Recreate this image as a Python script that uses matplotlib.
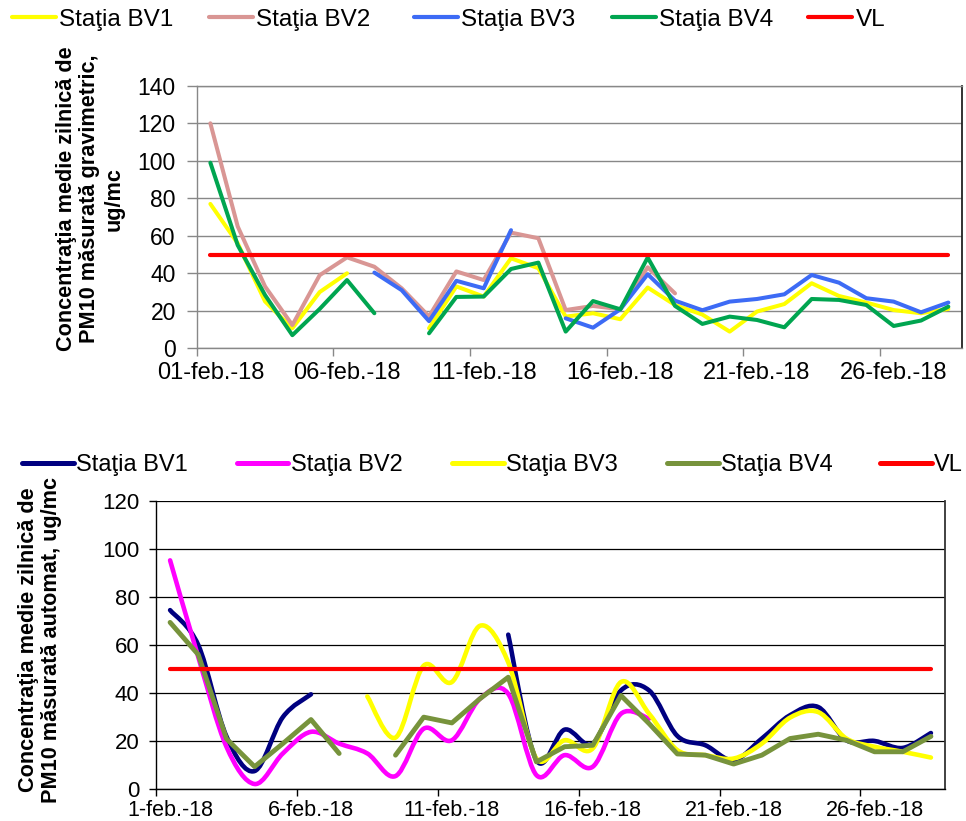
import numpy as np
import matplotlib
matplotlib.use("Agg")
import matplotlib.pyplot as plt
from matplotlib.path import Path
from matplotlib.patches import PathPatch
from matplotlib.lines import Line2D

nan = np.nan

# ---------------- data ----------------
days = list(range(1, 29))
label_days = [1, 6, 11, 16, 21, 26]
top_xlabels = ["01-feb.-18", "06-feb.-18", "11-feb.-18", "16-feb.-18", "21-feb.-18", "26-feb.-18"]
bot_xlabels = ["1-feb.-18", "6-feb.-18", "11-feb.-18", "16-feb.-18", "21-feb.-18", "26-feb.-18"]
top_yticks = [0, 20, 40, 60, 80, 100, 120, 140]
bot_yticks = [0, 20, 40, 60, 80, 100, 120]

series_names = ["Staţia BV1", "Staţia BV2", "Staţia BV3", "Staţia BV4", "VL"]

# gravimetric (top chart)
grav_bv1 = [77, 56, 25, 10.7, 30, 40, nan, nan, 10.7, 33, 27.6, 48, 42.7, 16.9,
            18.7, 15.5, 32.4, 23.1, 18, 8.9, 19.6, 23.6, 34.7, 27.9, 24.4, 20.4, 18.7, 21]
grav_bv2 = [120, 65, 33, 12.4, 39, 48.5, 43.5, 32, 17, 41, 36.4, 61.7, 58.7, 20.4,
            22.6, 20.8, 43.2, 29.3, nan, nan, nan, nan, nan, nan, nan, nan, nan, nan]
grav_bv3 = [nan, nan, nan, nan, nan, nan, 40.4, 31, 14.5, 36, 32, 63, nan, 16,
            11, 20.8, 39.5, 25.4, 20.3, 24.9, 26.3, 28.8, 39.1, 35, 26.7, 24.9, 19.2, 24.4]
grav_bv4 = [99, 55, 28.4, 7, 21, 36.4, 18.7, nan, 8, 27.4, 27.6, 42.3, 45.7, 8.9,
            25.2, 20.8, 48.4, 22.6, 13, 16.9, 15.1, 11.2, 26.3, 25.8, 23.1, 11.9, 14.8, 22.2]
grav_vl = [50] * 28

# automatic (bottom chart)
auto_bv1 = [74.5, 60, 22, 7.6, 30, 39.5, nan, nan, nan, nan, nan, nan, 64.3, 12.1,
            24.8, 19, 41.1, 41.1, 22.2, 18.3, 12.1, 21.1, 30.8, 34.2, 20.4, 20.1, 17.2, 23.4]
auto_bv2 = [95.2, 55, 17.7, 2.2, 14.9, 23.9, 19, 14.9, 5.5, 25.2, 20.4, 37.7, 39.7, 5.9,
            14.2, 9.4, 31.4, 29.4, nan, nan, nan, nan, nan, nan, nan, nan, nan, nan]
auto_bv3 = [nan, nan, nan, nan, nan, nan, nan, 38.6, 21.5, 51.4, 44.6, 68, 52.8, 12.8,
            20.4, 17, 44.6, 31.4, 16.3, 14.2, 12.8, 19, 29.8, 32.1, 21.1, 17.7, 15.6, 13.2]
auto_bv4 = [69.4, 56, 21, 9.4, 19, 29, 14.9, nan, 14.2, 30, 27.6, 37.7, 46.6, 11.4,
            17.7, 18.3, 39, 27.3, 14.7, 14.2, 10.5, 14.2, 21.1, 22.9, 20.4, 15.6, 15.6, 22]
auto_vl = [50] * 28

top_colors = ["#FFFF00", "#D99694", "#3D6BF5", "#00A550", "#FF0000"]
bot_colors = ["#000080", "#FF00FF", "#FFFF00", "#77933C", "#FF0000"]

FONT = "Liberation Sans"


def smooth_line(ax, x, y, color, lw, zorder=3):
    """Excel-like smoothed line (cubic Bezier through the points)."""
    x = np.asarray(x, float)
    y = np.asarray(y, float)
    ok = ~np.isnan(y)
    i = 0
    n = len(y)
    while i < n:
        if not ok[i]:
            i += 1
            continue
        j = i
        while j < n and ok[j]:
            j += 1
        px, py = x[i:j], y[i:j]
        m = len(px)
        if m >= 2:
            verts = [(px[0], py[0])]
            codes = [Path.MOVETO]
            for k in range(m - 1):
                a = max(k - 1, 0)
                b = min(k + 2, m - 1)
                c1 = (px[k] + (px[k + 1] - px[a]) / 6.0, py[k] + (py[k + 1] - py[a]) / 6.0)
                c2 = (px[k + 1] - (px[b] - px[k]) / 6.0, py[k + 1] - (py[b] - py[k]) / 6.0)
                verts += [c1, c2, (px[k + 1], py[k + 1])]
                codes += [Path.CURVE4] * 3
            patch = PathPatch(Path(verts, codes), facecolor="none", edgecolor=color,
                              lw=lw, capstyle="round", joinstyle="round", zorder=zorder)
            ax.add_patch(patch)
        i = j


fig = plt.figure(figsize=(9.66, 8.21), dpi=100)
W, H = 966.0, 821.0

# ---------------- top chart ----------------
ax1 = fig.add_axes([196.7 / W, 1 - 348.3 / H, (962 - 196.7) / W, (348.3 - 85.8) / H])
for vals, col in zip([grav_bv1, grav_bv2, grav_bv3, grav_bv4], top_colors[:4]):
    ax1.plot(days, vals, color=col, lw=2.9, solid_capstyle="round", solid_joinstyle="round", zorder=3)
ax1.plot(days, grav_vl, color=top_colors[4], lw=3.0, solid_capstyle="round", zorder=4)
ax1.set_xlim(0.5, 28.5)
ax1.set_ylim(0, 140)
ax1.set_yticks(top_yticks)
ax1.set_yticklabels([str(v) for v in top_yticks], family=FONT, fontsize=16.5)
ax1.set_xticks(label_days)
ax1.set_xticklabels(top_xlabels, family=FONT, fontsize=17)
ax1.set_xticks(np.arange(0.5, 28, 5), minor=True)
ax1.tick_params(axis="x", which="major", length=0, pad=10)
ax1.tick_params(axis="x", which="minor", length=6, color="#888888", width=1)
ax1.tick_params(axis="y", length=7, color="#888888", width=1, pad=8)
ax1.grid(axis="y", color="#888888", lw=1.0, zorder=0)
ax1.set_axisbelow(True)
for s in ["left", "bottom", "top"]:
    ax1.spines[s].set_color("#888888")
    ax1.spines[s].set_linewidth(1.0)
ax1.spines["right"].set_color("#222222")
ax1.spines["right"].set_linewidth(1.3)

fig.text(90 / W, 1 - 199 / H,
         "Concentraţia medie zilnică de\nPM10 măsurată gravimetric,\nug/mc",
         rotation=90, ha="center", va="center", multialignment="center",
         family=FONT, fontweight="bold", fontsize=15.6, linespacing=1.18)

top_handle_x = [12, 209, 414, 612, 808]
for name, col, xh in zip(series_names, top_colors, top_handle_x):
    h = Line2D([], [], color=col, lw=3.0, solid_capstyle="round")
    fig.legend([h], [name], loc="center left", bbox_to_anchor=(xh / W, 1 - 20 / H),
               frameon=False, borderpad=0, borderaxespad=0, handlelength=1.8,
               handletextpad=0.15, prop={"family": FONT, "size": 17.5})

# ---------------- bottom chart ----------------
ax2 = fig.add_axes([156 / W, 1 - 789.3 / H, (945 - 156) / W, (789.3 - 500.7) / H])
for vals, col in zip([auto_bv1, auto_bv2, auto_bv3], bot_colors[:3]):
    smooth_line(ax2, days, vals, col, 3.3)
ax2.plot(days, auto_bv4, color=bot_colors[3], lw=3.5, solid_capstyle="round",
         solid_joinstyle="round", zorder=4)
ax2.plot(days, auto_vl, color=bot_colors[4], lw=3.0, solid_capstyle="round", zorder=5)
ax2.set_xlim(0.5, 28.5)
ax2.set_ylim(0, 120)
ax2.set_yticks(bot_yticks)
ax2.set_yticklabels([str(v) for v in bot_yticks], family=FONT, fontsize=16)
ax2.set_xticks(label_days)
ax2.set_xticklabels(bot_xlabels, family=FONT, fontsize=15.5)
ax2.set_xticks(np.arange(0.5, 28, 5), minor=True)
ax2.tick_params(axis="x", which="major", length=0, pad=8)
ax2.tick_params(axis="x", which="minor", length=5, color="black", width=1)
ax2.tick_params(axis="y", length=5, color="black", width=1, pad=7)
ax2.grid(axis="y", color="black", lw=0.9, zorder=0)
ax2.set_axisbelow(True)
for s in ["left", "bottom", "right"]:
    ax2.spines[s].set_color("black")
    ax2.spines[s].set_linewidth(1.0)
ax2.spines["right"].set_color("#333333")
ax2.spines["right"].set_linewidth(1.3)
ax2.spines["top"].set_visible(False)

fig.text(40 / W, 1 - 640 / H,
         "Concentraţia medie zilnică de\nPM10 măsurată automat, ug/mc",
         rotation=90, ha="center", va="center", multialignment="center",
         family=FONT, fontweight="bold", fontsize=15.6, linespacing=1.08)

bot_handle_x = [21.7, 236.5, 452, 667, 880]
for name, col, xh in zip(series_names, bot_colors, bot_handle_x):
    h = Line2D([], [], color=col, lw=3.6, solid_capstyle="round")
    fig.legend([h], [name], loc="center left", bbox_to_anchor=(xh / W, 1 - 465 / H),
               frameon=False, borderpad=0, borderaxespad=0, handlelength=2.2,
               handletextpad=0.1, prop={"family": FONT, "size": 17})

fig.savefig("out.png", dpi=100)
